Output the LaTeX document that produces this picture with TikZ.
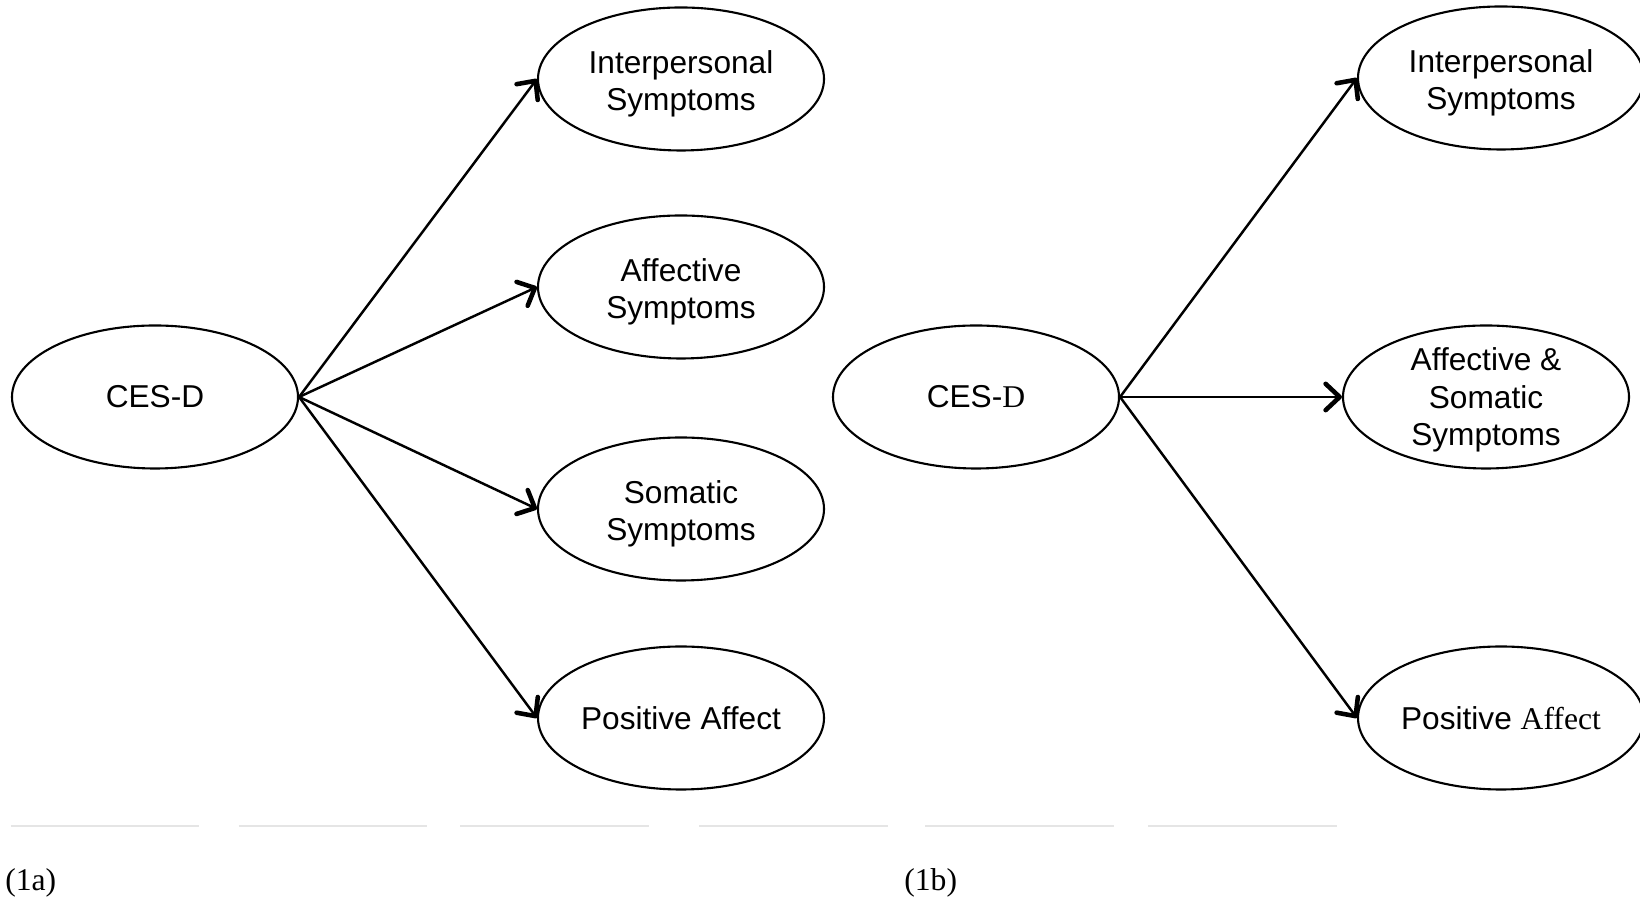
\documentclass[tikz,border=0pt]{standalone}
\usepackage{fontspec}
\setmainfont{Liberation Serif}
\newfontfamily\arial{Liberation Sans}
\usetikzlibrary{arrows.meta,shapes.geometric}
\begin{document}
\begin{tikzpicture}[
    factor/.style={draw,ellipse,line width=1.2pt,minimum width=5.72cm,
      minimum height=2.86cm,inner sep=0pt,align=center,
      font=\arial\fontsize{18}{21.5}\selectfont},
    twolines/.style={text height=40pt},
    threelines/.style={text height=59.5pt,inner ysep=-12pt},
    load/.style={line width=1.4pt,
      -{Straight Barb[length=8pt,width=15pt,line width=2.6pt,round]}},
    faint/.style={line width=0.8pt,black!10}
  ]
  \useasboundingbox (0,0) rectangle (32.8,18.08);
  % panel (1a)
  \node[factor] (cesA) at (3.10,10.14) {CES-D};
  \node[factor,twolines] (interA) at (13.62,16.50) {Interpersonal\\Symptoms};
  \node[factor,twolines] (affA) at (13.62,12.34) {Affective\\Symptoms};
  \node[factor,twolines] (somA) at (13.62,7.90) {Somatic\\Symptoms};
  \node[factor] (posA) at (13.62,3.72) {Positive Affect};
  \foreach \t in {interA,affA,somA,posA}
    \draw[load] (cesA.east) -- (\t.west);
  % panel (1b)
  \node[factor] (cesB) at (19.52,10.14) {CES-{\rmfamily D}};
  \node[factor,twolines] (interB) at (30.02,16.52) {Interpersonal\\Symptoms};
  \node[factor,threelines] (affsomB) at (29.72,10.14)
    {Affective \&\\Somatic\\Symptoms};
  \node[factor] (posB) at (30.02,3.72) {Positive {\rmfamily Affect}};
  \foreach \t in {interB,affsomB,posB}
    \draw[load] (cesB.east) -- (\t.west);
  % faint rule
  \foreach \x in {0.21,4.77,9.20,13.98,18.50,22.96}
    \draw[faint] (\x,1.56) -- ++(3.77,0);
  \node[anchor=west,inner sep=0pt,font=\fontsize{18}{21.5}\selectfont]
    (capA) at (0.10,0.42) {(1a)};
  \node[anchor=west,inner sep=0pt,font=\fontsize{18}{21.5}\selectfont]
    (capB) at (18.08,0.42) {(1b)};
\end{tikzpicture}
\end{document}
